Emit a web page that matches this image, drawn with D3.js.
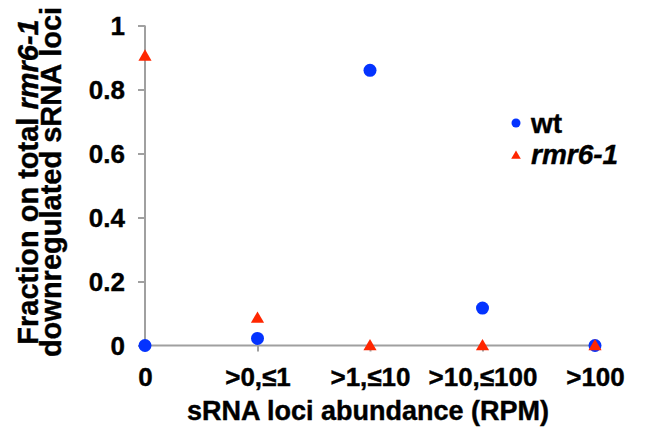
<!DOCTYPE html>
<html>
<head>
<meta charset="utf-8">
<script src="https://cdn.jsdelivr.net/npm/d3@7"></script>
<style>
  body { margin: 0; background: #fff; }
  text { font-family: "Liberation Sans", Arial, sans-serif; font-weight: bold; fill: #000; stroke: #000; stroke-width: 0.4px; }
</style>
</head>
<body>
<div id="chart"></div>
<script>
var categories = ["0", ">0,\u22641", ">1,\u226410", ">10,\u2264100", ">100"];
var wt = [0, 0.022, 0.86, 0.117, 0];
var rmr6 = [0.905, 0.086, 0, 0, 0];
var yTicks = [0, 0.2, 0.4, 0.6, 0.8, 1];
var yTickLabels = ["0", "0.2", "0.4", "0.6", "0.8", "1"];

var width = 656, height = 435;
var svg = d3.select("#chart").append("svg")
    .attr("width", width)
    .attr("height", height);

var x = d3.scalePoint()
    .domain(categories)
    .range([145, 595]);

var y = d3.scaleLinear()
    .domain([0, 1])
    .range([345.5, 25.5]);

var axisColor = "#a0a0a0";

// y axis
var yAxis = svg.append("g")
    .attr("transform", "translate(145,0)")
    .call(d3.axisLeft(y).tickValues(yTicks).tickSize(7).tickFormat(function (d, i) { return yTickLabels[i]; }));
yAxis.select(".domain").remove();
yAxis.selectAll(".tick line").attr("stroke", axisColor).attr("stroke-width", 2);
yAxis.selectAll(".tick text")
    .attr("x", -20)
    .attr("dy", "0.36em")
    .style("font-size", "26px")
    .style("font-family", "Liberation Sans, Arial, sans-serif")
    .style("font-weight", "bold")
    .attr("fill", "#000");
svg.append("line")
    .attr("x1", 145).attr("x2", 145)
    .attr("y1", y(1)).attr("y2", y(0))
    .attr("stroke", axisColor).attr("stroke-width", 2);

// x axis
var xAxis = svg.append("g")
    .attr("transform", "translate(0," + y(0) + ")")
    .call(d3.axisBottom(x).tickSize(6));
xAxis.select(".domain").remove();
xAxis.selectAll(".tick line").attr("stroke", axisColor).attr("stroke-width", 2);
xAxis.selectAll(".tick text")
    .attr("y", 40)
    .attr("dy", "0")
    .style("font-size", "26px")
    .style("font-family", "Liberation Sans, Arial, sans-serif")
    .style("font-weight", "bold")
    .attr("fill", "#000");
svg.append("line")
    .attr("x1", 145).attr("x2", 600)
    .attr("y1", y(0)).attr("y2", y(0))
    .attr("stroke", axisColor).attr("stroke-width", 2);

// axis titles
svg.append("text")
    .attr("x", 368)
    .attr("y", 420)
    .attr("text-anchor", "middle")
    .style("font-size", "27px")
    .text("sRNA loci abundance (RPM)");

var yTitle = svg.append("g")
    .attr("transform", "translate(0,182) rotate(-90)");
var t1 = yTitle.append("text")
    .attr("x", 0).attr("y", 38)
    .attr("text-anchor", "middle")
    .style("font-size", "29px");
t1.append("tspan").text("Fraction on total ");
t1.append("tspan").style("font-style", "italic").text("rmr6-1");
yTitle.append("text")
    .attr("x", 0).attr("y", 61)
    .attr("text-anchor", "middle")
    .style("font-size", "29px")
    .text("downregulated sRNA loci");

var blue = "#0433ff", red = "#ff2600";

// wt points
svg.append("g").selectAll("circle")
    .data(wt)
    .enter().append("circle")
    .attr("cx", function (d, i) { return x(categories[i]); })
    .attr("cy", function (d) { return y(d); })
    .attr("r", 6.5)
    .attr("fill", blue);

// rmr6-1 points
var tri = d3.symbol().type(d3.symbolTriangle).size(75);
svg.append("g").selectAll("path")
    .data(rmr6)
    .enter().append("path")
    .attr("d", tri)
    .attr("transform", function (d, i) { return "translate(" + x(categories[i]) + "," + (y(d) + 1) + ")"; })
    .attr("fill", red);

// legend
var legend = svg.append("g");
legend.append("circle")
    .attr("cx", 516).attr("cy", 123)
    .attr("r", 4.5)
    .attr("fill", blue);
legend.append("text")
    .attr("x", 531).attr("y", 133)
    .style("font-size", "28px")
    .text("wt");
legend.append("path")
    .attr("d", d3.symbol().type(d3.symbolTriangle).size(40))
    .attr("transform", "translate(516,156)")
    .attr("fill", red);
legend.append("text")
    .attr("x", 531).attr("y", 164)
    .style("font-size", "28px")
    .style("font-style", "italic")
    .text("rmr6-1");
</script>
</body>
</html>
